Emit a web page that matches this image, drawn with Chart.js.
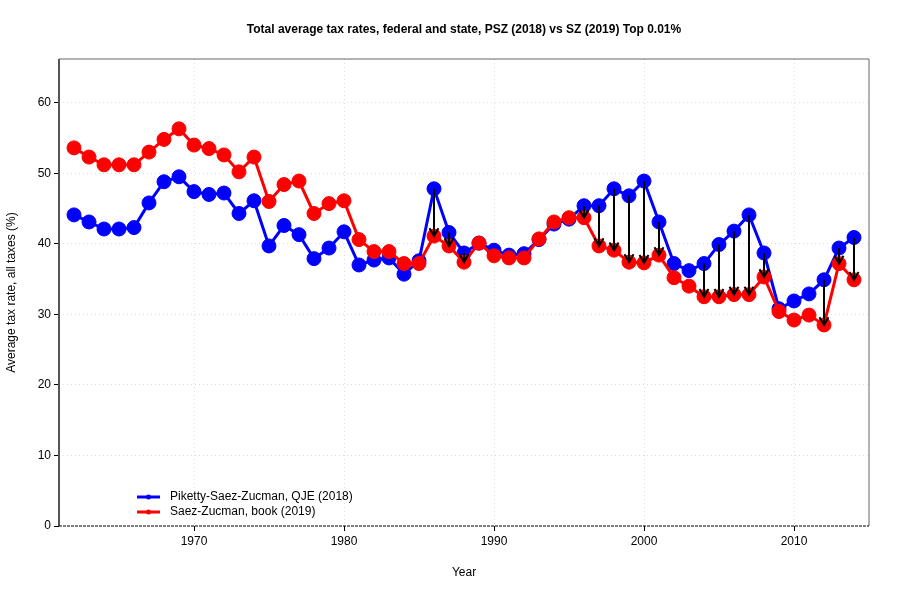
<!DOCTYPE html>
<html>
<head>
<meta charset="utf-8">
<script src="https://cdn.jsdelivr.net/npm/chart.js@4"></script>
<style>
  html, body { margin: 0; padding: 0; background: #fff; }
  #wrap { width: 900px; height: 600px; }
</style>
</head>
<body>
<div id="wrap"><canvas id="taxChart" width="900" height="600"></canvas></div>
<script>
const years = [];
for (let y = 1962; y <= 2014; y++) years.push(y);

// Piketty-Saez-Zucman, QJE (2018)
const pszValues = [
  44.1, 43.1, 42.1, 42.1, 42.3, 45.8, 48.8, 49.5, 47.4, 47.0,
  47.2, 44.3, 46.1, 39.7, 42.6, 41.3, 37.9, 39.4, 41.7, 37.0,
  37.7, 38.0, 35.7, 37.6, 47.8, 41.6, 38.7, 40.1, 39.1, 38.4,
  38.6, 40.6, 42.8, 43.5, 45.4, 45.4, 47.8, 46.8, 48.9, 43.1,
  37.2, 36.2, 37.2, 39.9, 41.8, 44.1, 38.7, 30.8, 31.9, 32.9,
  34.9, 39.4, 40.9
];

// Saez-Zucman, book (2019)
const szValues = [
  53.6, 52.3, 51.2, 51.2, 51.2, 53.0, 54.8, 56.3, 54.0, 53.5,
  52.6, 50.2, 52.3, 46.0, 48.4, 48.9, 44.3, 45.7, 46.1, 40.6,
  38.9, 38.9, 37.2, 37.2, 41.1, 39.7, 37.4, 40.1, 38.3, 38.0,
  38.0, 40.7, 43.1, 43.7, 43.7, 39.7, 39.1, 37.4, 37.3, 38.4,
  35.2, 34.0, 32.5, 32.5, 32.8, 32.8, 35.3, 30.4, 29.2, 29.9,
  28.5, 37.2, 34.9
];

// years with an arrow from PSZ down to SZ
const arrowYears = [1986, 1987, 1988, 1996, 1997, 1998, 1999, 2000, 2001,
                    2004, 2005, 2006, 2007, 2008, 2012, 2013, 2014];

const xTicks = [1970, 1980, 1990, 2000, 2010];
const yTicks = [0, 10, 20, 30, 40, 50, 60];

const titleText = 'Total average tax rates, federal and state, PSZ (2018) vs SZ (2019) Top 0.01%';
const legendLabels = ['Piketty-Saez-Zucman, QJE (2018)', 'Saez-Zucman, book (2019)'];

const FONT = "'Liberation Sans', Arial, sans-serif";

const extras = {
  id: 'extras',
  beforeDatasetsDraw(chart) {
    const { ctx, chartArea: a } = chart;
    ctx.save();
    // box
    ctx.strokeStyle = '#666';
    ctx.lineWidth = 1;
    ctx.beginPath();
    ctx.moveTo(a.left, a.bottom);
    ctx.lineTo(a.left, a.top);
    ctx.lineTo(a.right, a.top);
    ctx.lineTo(a.right, a.bottom);
    ctx.stroke();
    ctx.lineWidth = 2;
    ctx.strokeStyle = '#555';
    ctx.beginPath();
    ctx.moveTo(a.left, a.bottom);
    ctx.lineTo(a.left, a.top);
    ctx.stroke();
    // dashed zero line
    const y0 = chart.scales.y.getPixelForValue(0);
    ctx.strokeStyle = '#000';
    ctx.lineWidth = 1;
    ctx.setLineDash([3, 1]);
    ctx.beginPath();
    ctx.moveTo(a.left, y0);
    ctx.lineTo(a.right, y0);
    ctx.stroke();
    ctx.restore();
  },
  afterDatasetsDraw(chart) {
    const { ctx } = chart;
    const xs = chart.scales.x, ys = chart.scales.y;
    ctx.save();
    ctx.strokeStyle = '#000';
    ctx.lineWidth = 2;
    arrowYears.forEach(yr => {
      const i = years.indexOf(yr);
      const x = xs.getPixelForValue(yr);
      const y1 = ys.getPixelForValue(pszValues[i]);
      const y2 = ys.getPixelForValue(szValues[i]);
      ctx.beginPath();
      ctx.moveTo(x, y1);
      ctx.lineTo(x, y2);
      ctx.stroke();
      const len = 9, ang = Math.PI / 6;
      ctx.beginPath();
      ctx.moveTo(x - len * Math.sin(ang), y2 - len * Math.cos(ang));
      ctx.lineTo(x, y2);
      ctx.lineTo(x + len * Math.sin(ang), y2 - len * Math.cos(ang));
      ctx.stroke();
    });

    // title
    const a = chart.chartArea;
    ctx.fillStyle = '#000';
    ctx.font = 'bold 12px ' + FONT;
    ctx.textAlign = 'center';
    ctx.textBaseline = 'middle';
    ctx.fillText(titleText, (a.left + a.right) / 2, 30);

    // legend
    const colors = ['#0000ff', '#ff0000'];
    ctx.font = '12px ' + FONT;
    ctx.textAlign = 'left';
    legendLabels.forEach((lab, k) => {
      const ly = 497 + k * 15;
      ctx.strokeStyle = colors[k];
      ctx.fillStyle = colors[k];
      ctx.lineWidth = 3;
      ctx.beginPath();
      ctx.moveTo(137, ly);
      ctx.lineTo(160, ly);
      ctx.stroke();
      ctx.beginPath();
      ctx.arc(148.5, ly, 2.5, 0, Math.PI * 2);
      ctx.fill();
      ctx.fillStyle = '#000';
      ctx.fillText(lab, 170, ly);
    });
    ctx.restore();
  }
};

const ctx = document.getElementById('taxChart').getContext('2d');
new Chart(ctx, {
  type: 'line',
  data: {
    labels: years,
    datasets: [
      {
        label: legendLabels[0],
        data: years.map((y, i) => ({ x: y, y: pszValues[i] })),
        borderColor: '#0000ff',
        backgroundColor: '#0000ff',
        borderWidth: 3,
        pointRadius: 7,
        pointBorderWidth: 1,
        pointBorderColor: '#0000ff',
        order: 1
      },
      {
        label: legendLabels[1],
        data: years.map((y, i) => ({ x: y, y: szValues[i] })),
        borderColor: '#ff0000',
        backgroundColor: '#ff0000',
        borderWidth: 3,
        pointRadius: 7,
        pointBorderWidth: 1,
        pointBorderColor: '#ff0000',
        order: 0
      }
    ]
  },
  options: {
    responsive: false,
    animation: false,
    layout: { padding: { top: 59, right: 31, left: 0, bottom: 0 } },
    plugins: {
      legend: { display: false },
      title: { display: false },
      tooltip: { enabled: false }
    },
    scales: {
      x: {
        type: 'linear',
        min: 1961,
        max: 2015,
        afterBuildTicks(scale) { scale.ticks = xTicks.map(v => ({ value: v })); },
        afterFit(scale) { scale.height = 74; },
        ticks: { color: '#000', font: { size: 12, family: FONT }, padding: 3, maxRotation: 0, callback: v => String(v) },
        grid: { color: '#dddddd', tickColor: '#000', tickLength: 5, lineWidth: 1 },
        border: { display: false, dash: [1, 3] },
        title: { display: true, text: 'Year', color: '#000', font: { size: 12, family: FONT }, padding: { top: 14, bottom: 20 } }
      },
      y: {
        min: 0,
        max: 66.2,
        afterBuildTicks(scale) { scale.ticks = yTicks.map(v => ({ value: v })); },
        afterFit(scale) { scale.width = 59; },
        ticks: { color: '#000', font: { size: 12, family: FONT }, padding: 3 },
        grid: {
          color: ctx => ctx.tick && ctx.tick.value === 0 ? 'rgba(0,0,0,0)' : '#dddddd',
          tickColor: '#000', tickLength: 5, lineWidth: 1
        },
        border: { display: false, dash: [1, 3] },
        title: { display: true, text: 'Average tax rate, all taxes (%)', color: '#000', font: { size: 12, family: FONT }, padding: { top: 4, bottom: 4 } }
      }
    }
  },
  plugins: [extras]
});
</script>
</body>
</html>
